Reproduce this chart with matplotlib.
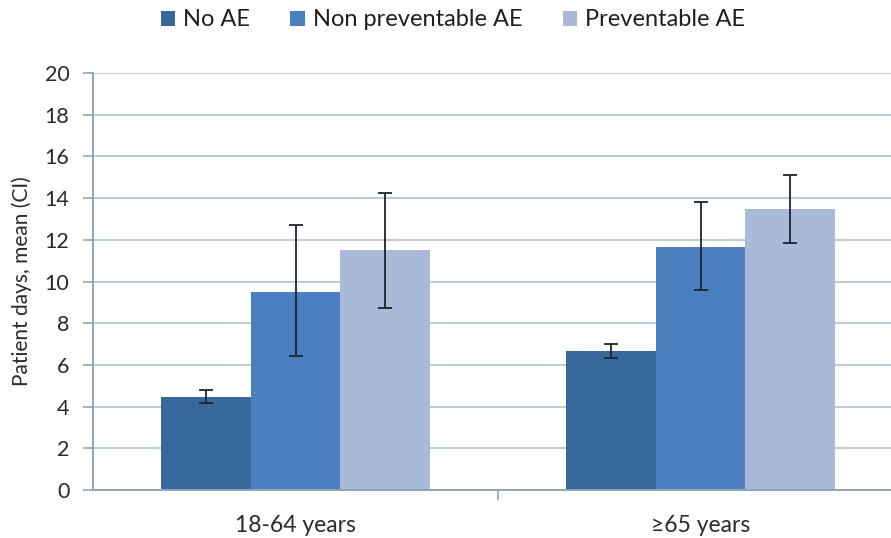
import matplotlib
matplotlib.use("Agg")
import matplotlib.pyplot as plt
import numpy as np

plt.rcParams['font.family'] = ['Lato', 'DejaVu Sans']

categories = ["18-64 years", "\u226565 years"]
series = ["No AE", "Non preventable AE", "Preventable AE"]
means = {
    "No AE": [4.45, 6.65],
    "Non preventable AE": [9.5, 11.65],
    "Preventable AE": [11.5, 13.5],
}
ci_low = {
    "No AE": [4.15, 6.35],
    "Non preventable AE": [6.45, 9.6],
    "Preventable AE": [8.75, 11.85],
}
ci_high = {
    "No AE": [4.8, 7.0],
    "Non preventable AE": [12.7, 13.8],
    "Preventable AE": [14.25, 15.1],
}
colors = ["#37679B", "#4A80C0", "#A9B9D8"]

W, H = 891, 538
fig = plt.figure(figsize=(W / 100, H / 100), dpi=100)
left, right, bottom, top = 93, 891, 490, 73
ax = fig.add_axes([left / W, (H - bottom) / H, (right - left) / W, (bottom - top) / H])

centers = np.array([0.5, 1.5])
bw = 0.222
for i, s in enumerate(series):
    x = centers + (i - 1) * bw
    m = np.array(means[s])
    lo = m - np.array(ci_low[s])
    hi = np.array(ci_high[s]) - m
    ax.bar(x, m, width=bw, color=colors[i], label=s, zorder=2)
    ax.errorbar(x, m, yerr=[lo, hi], fmt='none', ecolor="#1C2530",
                elinewidth=1.3, capsize=4.8, capthick=1.3, zorder=3)

ax.set_xlim(0, (right - left) / 405)
ax.set_ylim(0, 20)
ax.set_yticks(range(0, 21, 2))
ax.set_xticks(centers)
ax.set_xticklabels(categories, fontsize=16.5, color="#2a2a2a")
ax.set_xticks([1.0], minor=True)
ax.tick_params(axis='x', which='major', length=0, pad=18)
ax.tick_params(axis='x', which='minor', length=7, width=1.2, color="#8EA7B5", direction='out')
ax.tick_params(axis='y', length=7, width=1.2, color="#8EA7B5", labelsize=15.5, labelcolor="#2a2a2a", pad=10)

ax.yaxis.grid(True, color="#BCCBD4", linewidth=1.4, zorder=0)
ax.set_axisbelow(True)
for sp in ['top', 'right']:
    ax.spines[sp].set_visible(False)
for sp in ['left', 'bottom']:
    ax.spines[sp].set_color("#8EA7B5")
    ax.spines[sp].set_linewidth(1.4)

ax.set_ylabel("Patient days, mean (CI)", fontsize=15, color="#2a2a2a", labelpad=9)

leg = fig.legend(loc='center', bbox_to_anchor=(453 / W, 1 - 20 / H), ncol=3, frameon=False,
                 fontsize=17, handlelength=0.6, handleheight=0.6, handletextpad=0.35,
                 columnspacing=1.7, labelcolor="#1f1f1f")

fig.savefig("out.png", dpi=100, facecolor="white")
